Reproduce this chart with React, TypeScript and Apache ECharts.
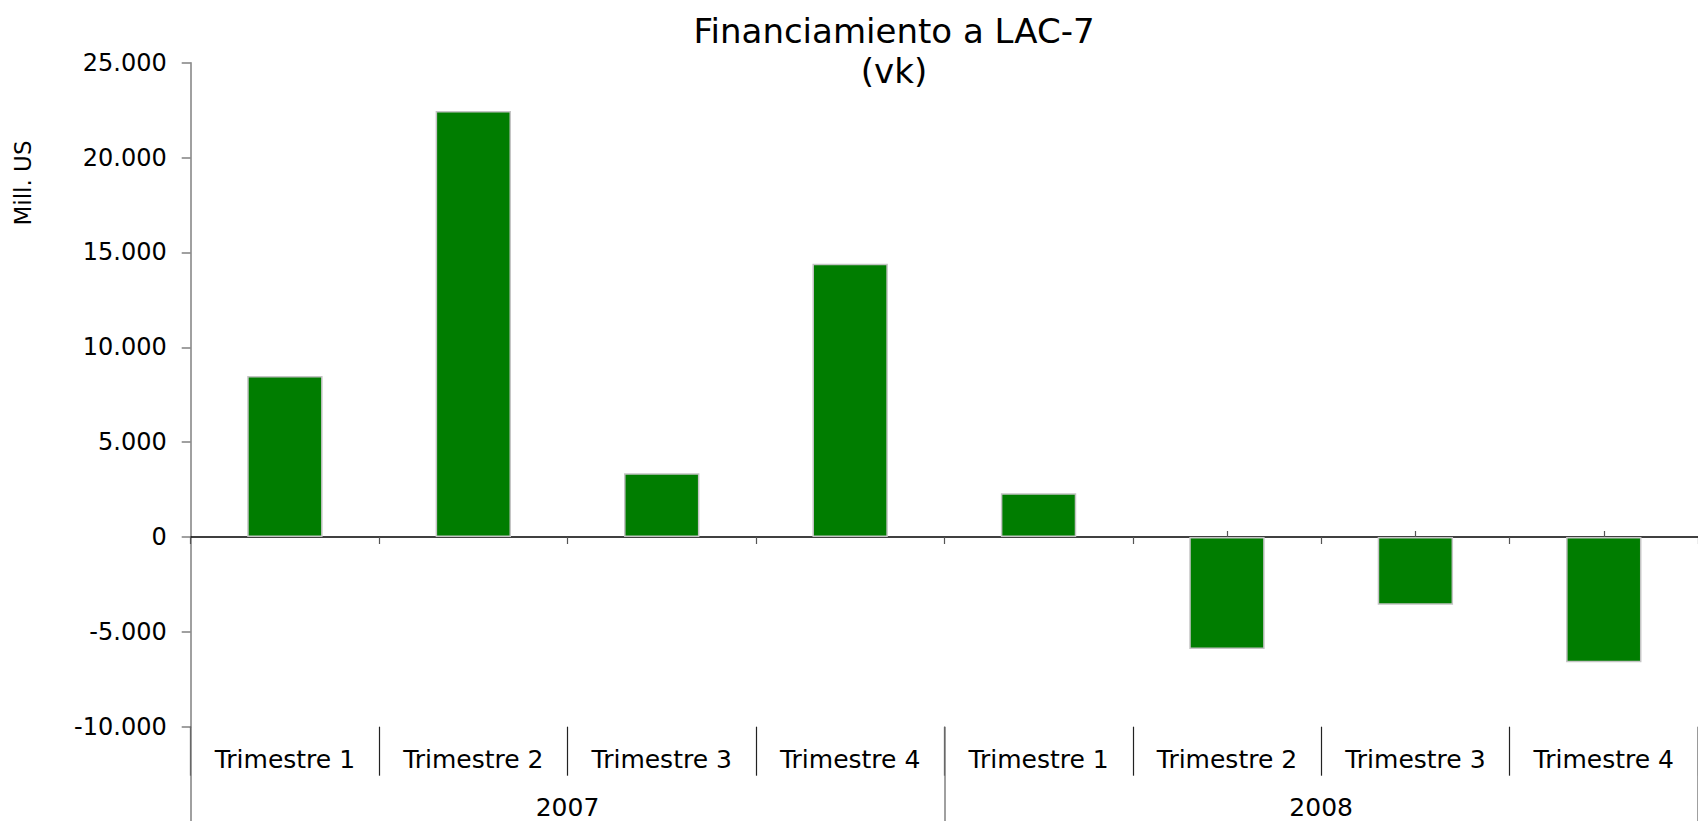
import React, { useEffect, useRef } from "react";
import * as echarts from "echarts";

const categories = [
  "Trimestre 1",
  "Trimestre 2",
  "Trimestre 3",
  "Trimestre 4",
  "Trimestre 1",
  "Trimestre 2",
  "Trimestre 3",
  "Trimestre 4",
];
const years = ["2007", "2008"];
const values = [8480, 22450, 3360, 14400, 2300, -5900, -3570, -6600];
const yMin = -10000;
const yMax = 25000;
const yStep = 5000;

const FONT = "DejaVu Sans";

function fmt(v: number): string {
  const s = Math.abs(v).toString().replace(/\B(?=(\d{3})+(?!\d))/g, ".");
  return (v < 0 ? "-" : "") + s;
}

export default function App() {
  const ref = useRef<HTMLDivElement>(null);
  useEffect(() => {
    if (!ref.current) return;
    const chart = echarts.init(ref.current, null, { renderer: "svg" });
    chart.setOption({
      animation: false,
      backgroundColor: "#ffffff",
      title: {
        text: "Financiamiento a LAC-7",
        subtext: "(vk)",
        left: 894,
        top: 14,
        padding: 0,
        itemGap: 6,
        textAlign: "center",
        textStyle: {
          fontFamily: FONT,
          fontSize: 34,
          fontWeight: "normal",
          color: "#000",
          lineHeight: 34,
        },
        subtextStyle: {
          fontFamily: FONT,
          fontSize: 34,
          color: "#000",
          lineHeight: 34,
        },
      },
      graphic: [
        {
          type: "text",
          x: 23,
          y: 183,
          rotation: Math.PI / 2,
          style: {
            text: "Mill. US",
            fontFamily: FONT,
            fontSize: 23,
            fill: "#000",
            textAlign: "center",
            textVerticalAlign: "middle",
          },
        },
      ],
      grid: { left: 190.7, right: -4, top: 62.7, bottom: 94.3 },
      yAxis: {
        type: "value",
        min: yMin,
        max: yMax,
        interval: yStep,
        axisLine: { show: true, onZero: false, lineStyle: { color: "#808080", width: 1.5 } },
        axisTick: { show: true, length: 9, lineStyle: { color: "#808080", width: 1.5 } },
        splitLine: { show: false },
        axisLabel: {
          formatter: (v: number) => fmt(v),
          fontFamily: FONT,
          fontSize: 24,
          color: "#000",
          margin: 24,
        },
      },
      xAxis: [
        {
          type: "category",
          data: categories,
          position: "bottom",
          axisLine: { show: true, onZero: true, onZeroAxisIndex: 0, lineStyle: { color: "#000", width: 1.5 } },
          axisTick: { show: true, length: 7, lineStyle: { color: "#555", width: 1.2 } },
          axisLabel: { show: false },
          splitLine: { show: false },
        },
        {
          type: "category",
          data: categories,
          position: "bottom",
          axisLine: { show: false, onZero: true, onZeroAxisIndex: 0 },
          axisTick: { show: true, alignWithLabel: true, inside: true, length: 6, lineStyle: { color: "#555", width: 1.2 } },
          axisLabel: { show: false },
          splitLine: { show: false },
        },
        {
          type: "category",
          data: categories,
          position: "bottom",
          axisLine: { show: false, onZero: false },
          axisTick: { show: true, length: 49, lineStyle: { color: "#222", width: 1.2 } },
          axisLabel: { show: true, fontFamily: FONT, fontSize: 25, color: "#000", margin: 20, interval: 0 },
          splitLine: { show: false },
        },
        {
          type: "category",
          data: years,
          position: "bottom",
          axisLine: { show: false, onZero: false },
          axisTick: { show: true, length: 95, lineStyle: { color: "#808080", width: 1.5 } },
          axisLabel: { show: true, fontFamily: FONT, fontSize: 25, color: "#000", margin: 68, interval: 0 },
          splitLine: { show: false },
        },
      ],
      series: [
        {
          type: "bar",
          xAxisIndex: 0,
          yAxisIndex: 0,
          data: values,
          barWidth: "40%",
          itemStyle: { color: "#007D00", borderColor: "#C4C4C4", borderWidth: 1.5 },
        },
      ],
    });
    return () => chart.dispose();
  }, []);
  return (
    <div
      ref={ref}
      style={{ position: "fixed", left: 0, top: 0, width: 1698, height: 821, background: "#fff" }}
    />
  );
}
